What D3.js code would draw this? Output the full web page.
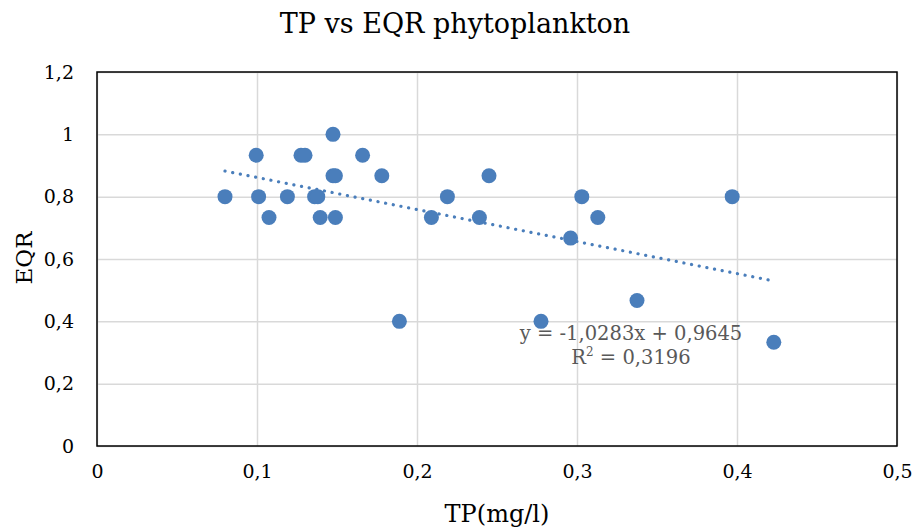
<!DOCTYPE html>
<html><head><meta charset="utf-8">
<script src="https://cdn.jsdelivr.net/npm/d3@7"></script>
<style>body{margin:0;background:#fff}svg text{font-family:"DejaVu Serif",serif}</style>
</head><body><svg id="c" width="913" height="530"></svg>
<script>
const tp  = [0.080,0.0995,0.101,0.1075,0.119,0.1275,0.130,0.136,0.138,0.1395,0.1475,0.1475,0.149,0.149,0.166,0.178,0.189,0.209,0.219,0.239,0.245,0.2775,0.296,0.303,0.313,0.3375,0.397,0.423];
const eqr = [0.8,0.933,0.8,0.733,0.8,0.933,0.933,0.8,0.8,0.733,1.0,0.867,0.867,0.733,0.933,0.867,0.4,0.733,0.8,0.733,0.867,0.4,0.667,0.8,0.733,0.467,0.8,0.333];
const xTicks = [0,0.1,0.2,0.3,0.4,0.5];
const yTicks = [0,0.2,0.4,0.6,0.8,1.0,1.2];
const slope = -1.0283, intercept = 0.9645;
const eqLabel = "y = -1,0283x + 0,9645";
const r2Label = "0,3196";
const title = "TP vs EQR phytoplankton";
const xTitle = "TP(mg/l)", yTitle = "EQR";

const svg = d3.select("#c");
const L=97, R=897, T=72, B=446;
const x = d3.scaleLinear().domain([0,0.5]).range([L,R]);
const y = d3.scaleLinear().domain([0,1.2]).range([B,T]);
const fmt = d => String(+d.toFixed(1)).replace(".",",");
const FF = "DejaVu Serif, serif";

// grid
svg.append("g").attr("transform",`translate(0,${B})`)
  .call(d3.axisBottom(x).tickValues(xTicks).tickSize(-(B-T)).tickFormat(""))
  .call(g=>{g.select(".domain").remove();g.selectAll("line").attr("stroke","#d9d9d9").attr("stroke-width",1.5);});
svg.append("g").attr("transform",`translate(${L},0)`)
  .call(d3.axisLeft(y).tickValues(yTicks).tickSize(-(R-L)).tickFormat(""))
  .call(g=>{g.select(".domain").remove();g.selectAll("line").attr("stroke","#d9d9d9").attr("stroke-width",1.5);});
// frame
svg.append("rect").attr("x",L).attr("y",T).attr("width",R-L).attr("height",B-T)
  .attr("fill","none").attr("stroke","#000").attr("stroke-width",1.5);

// tick labels
svg.append("g").attr("transform",`translate(0,${B})`)
  .call(d3.axisBottom(x).tickValues(xTicks).tickSize(0).tickPadding(19).tickFormat(fmt))
  .call(g=>{g.select(".domain").remove();g.selectAll("text").attr("font-size",19).attr("fill","#000").style("font-family",FF);});
svg.append("g").attr("transform",`translate(${L},0)`)
  .call(d3.axisLeft(y).tickValues(yTicks).tickSize(0).tickPadding(23).tickFormat(fmt))
  .call(g=>{g.select(".domain").remove();g.selectAll("text").attr("font-size",19).attr("fill","#000").style("font-family",FF);});

// trendline
const x0=d3.min(tp), x1=d3.max(tp);
svg.append("line").attr("x1",x(x0)).attr("y1",y(slope*x0+intercept))
  .attr("x2",x(x1)).attr("y2",y(slope*x1+intercept))
  .attr("stroke","#4a7ebb").attr("stroke-width",3.2).attr("stroke-linecap","round")
  .attr("stroke-dasharray","0.1 7.7");

// points
svg.append("g").selectAll("circle").data(tp.map((d,i)=>[d,eqr[i]])).join("circle")
  .attr("cx",d=>x(d[0])).attr("cy",d=>y(d[1])).attr("r",7.5).attr("fill","#4a7ebb");

// equation
svg.append("text").attr("x",631).attr("y",340).attr("text-anchor","middle")
  .attr("font-size",19.5).attr("fill","#595959").text(eqLabel);
const t2 = svg.append("text").attr("x",631).attr("y",364).attr("text-anchor","middle")
  .attr("font-size",19.5).attr("fill","#595959");
t2.append("tspan").text("R");
t2.append("tspan").attr("font-size",12).attr("dy",-8).text("2");
t2.append("tspan").attr("dy",8).text(" = "+r2Label);

// titles
svg.append("text").attr("x",455).attr("y",33).attr("text-anchor","middle").attr("font-size",27).attr("fill","#000").text(title);
svg.append("text").attr("x",497).attr("y",522).attr("text-anchor","middle").attr("font-size",24).attr("fill","#000").text(xTitle);
svg.append("text").attr("transform",`translate(32,258) rotate(-90)`).attr("text-anchor","middle").attr("font-size",23).attr("fill","#000").text(yTitle);
</script></body></html>
